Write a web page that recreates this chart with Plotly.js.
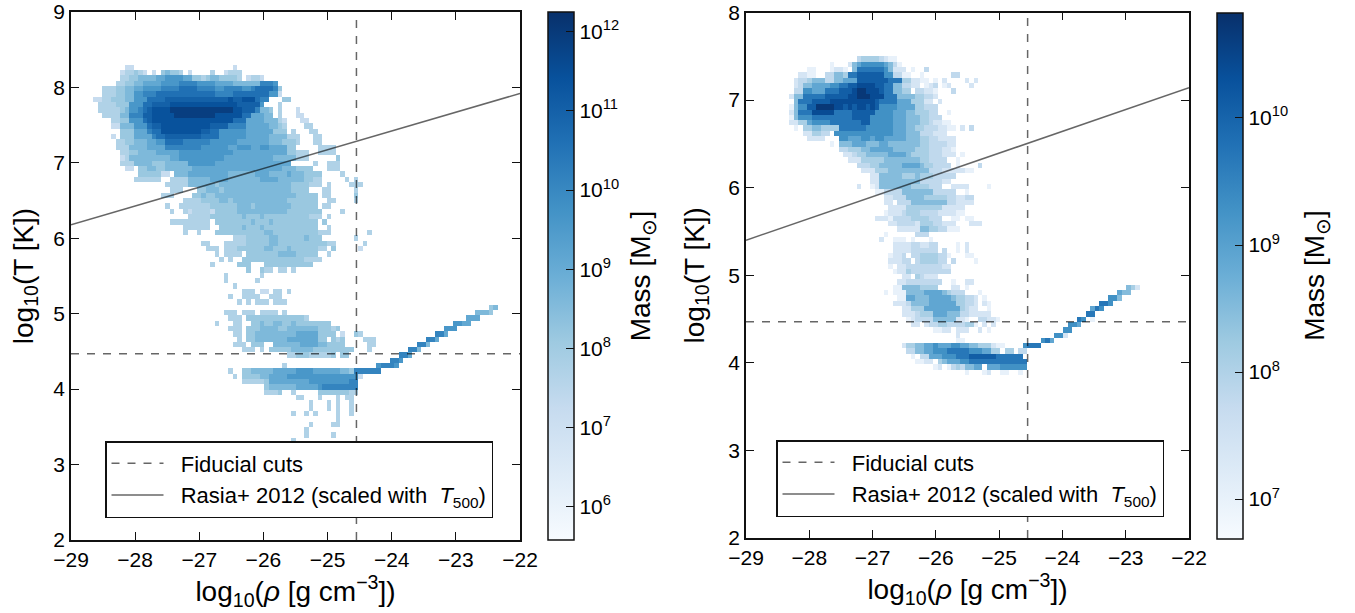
<!DOCTYPE html>
<html><head><meta charset="utf-8">
<script src="https://cdn.plot.ly/plotly-3.0.1.min.js"></script>
<style>html,body{margin:0;padding:0;background:#fff}</style></head>
<body><div id="chart" style="width:1355px;height:613px"></div>
<script>
// Mass levels: each character in a row is an estimated log10(mass).
const levelKeys = "123456789ab";
const leftLevelValues  = [7.2,7.7,8.15,8.6,9.1,9.6,10.1,10.6,11.0,11.4,11.9];
const rightLevelValues = [7.0,7.4,7.8,8.1,8.5,8.9,9.3,9.7,10.1,10.4,10.7];

// [row, "startColumn:levels ..."]
const leftRows = [
[89,"12:11 36:1"],
[88,"11:122321 18:1 20:34332 26:1 31:2 34:1222"],
[87,"11:2233 15:4444 19:55666655 27:3323 31:443 34:3332 39:1221"],
[86,"10:2233 14:4455 18:5566 22:667777 28:666655 34:5544 38:4444 42:7776"],
[85,"7:222 10:3344 14:5566 18:6677 22:778888 28:7777 32:6677 36:7766 40:7888 44:87 46:3"],
[84,"7:222 10:3344 14:6677 18:7888 22:888888 28:888877 34:7788 38:8888 42:88 44:66 46:1"],
[83,"5:11 7:2233 11:344 14:666 17:8888 21:99999999 29:999999 35:a99aaa 41:877 47:33"],
[82,"6:2222 10:333 13:666 16:88 18:9999 22:aaaaaaaaaaaaaaa 37:99999 42:6 46:2"],
[81,"6:22222 11:34 13:667 16:89 18:aaaa 22:bbbbbbbbbbbbbb 36:aa999 41:744 44:3 46:2 50:1"],
[80,"7:2222 11:44 13:777 16:99 18:aaaaa 23:bbbbbbbbb 32:aaaaaa 38:88 40:55544 46:2 50:11"],
[79,"9:22 11:33 13:666 16:8 17:9aaa 21:aaaaaaaaaaaaaaa 36:888 39:5555444 46:21 51:11"],
[78,"9:11 11:444 14:666 17:899 20:aaaaaaaaaaa 31:9999 35:7777 39:55555 44:4432 52:22"],
[77,"11:333 14:555 17:788 20:aaaaaaaaa 29:9988 33:666666 39:555555 45:333 49:2 53:22"],
[76,"9:1 11:333 14:5555 18:788 21:99999999 29:8888 33:666666 39:555554444 48:222 54:22"],
[75,"10:22 12:33444 17:5566 21:88887777 29:77666 34:6665555555 44:444333 50:2 54:22"],
[74,"10:222 13:44445555 21:77777 26:7776666 33:665566655665555 48:33 55:2222"],
[73,"11:2233 15:444455555 24:666666666666 36:555555555555 48:33222 55:2222"],
[72,"11:12 13:444444444 22:5566666666665555 38:5 39:55555544444 50:222 59:3"],
[71,"11:222 14:4444333 21:44444 26:66666655555555 40:555555555 54:2 57:222"],
[70,"12:11 15:3344334 22:44444 27:55555555555555555555 47:4443333 57:222"],
[69,"15:33333 20:11 23:44455555555544444455544445 49:4443333 60:2"],
[68,"14:222222 22:2222 26:44444555544444445555444444 52:3322 61:2 63:2"],
[67,"21:22222 26:444444344444444444444443333 53:222 57:2 62:2 63:22"],
[66,"22:222 28:3344434444444444444443333 56:22 63:2"],
[65,"20:222 27:3343344444444444444444433333 56:22 63:3"],
[64,"25:2222 29:33334434444444444443333333 57:22 63:2"],
[63,"21:2 24:2222222 31:333333444344444444333333 56:22"],
[62,"22:2 25:2122221 32:333334444444444433333333 60:2"],
[61,"26:22222 31:3333333433343333333333 53:222 57:2"],
[60,"22:222 25:222222 32:33333333433343333333333 56:3"],
[59,"25:222222 33:3333343334333333333333 57:2"],
[58,"25:2 28:2 32:33333333333443333333333222 66:2"],
[57,"36:222 39:33333443333334333 63:2"],
[56,"29:22 34:22222 39:3333344333333333 55:3322 65:2"],
[55,"30:22 32:2 34:22233333344333433333322 58:3 64:1"],
[54,"32:2 34:2222 39:3333333444433333 57:2"],
[53,"33:2 35:2 38:33333333333333 52:2222"],
[52,"31:2 37:333 43:33333333333"],
[51,"39:3 42:322 46:22 49:2"],
[50,"34:2 42:2"],
[49,"34:2 41:2"],
[48,"36:2"],
[47,"38:222 42:11 45:22 48:2"],
[46,"35:2 38:2222 44:222"],
[45,"37:2 39:2 41:222 45:222"],
[44,"93:34"],
[43,"34:222 38:222 42:2222 47:2 90:4443"],
[42,"35:222 39:3333333333333 52:2 88:555"],
[41,"32:2 36:22 40:33433443343333 54:3333 85:6655"],
[40,"35:222 39:33344443344444444 55:33323 83:666"],
[39,"36:22 39:33 41:44444444455555 55:3333 60:1 63:32 81:775"],
[38,"37:2 39:3344444445555555 55:33 58:323 65:222 79:775"],
[37,"36:222 40:333 45:444444555544 57:3333 66:22 77:774"],
[36,"38:222 42:2 44:33333444443333 58:33333 66:2 75:774"],
[35,"48:2233322222 58:3 60:33 73:775"],
[34,"71:776"],
[33,"47:2 68:67776"],
[32,"35:2 38:33 40:44444 45:55555 50:666655 56:5555 60:443 63:777777"],
[31,"36:2 38:3333 42:44555 47:5666 51:6666666 58:666666 64:1"],
[30,"38:222 41:223 44:555555 50:55566 55:666666677"],
[29,"43:34 45:44444 50:555556 56:77777777"],
[28,"43:222 46:3 49:2 55:333 58:333322"],
[27,"50:22 55:2 59:2 61:22"],
[26,"53:2 57:2 59:2 62:2"],
[25,"53:2 57:2 59:2 62:2"],
[24,"49:2 52:2 54:2 59:2 62:2"],
[23,"59:2"],
[22,"53:2 58:22"],
[21,"52:2"],
[20,"52:2 58:2"],
[19,"49:2"]
];

const rightRows = [
[91,"24:344443211"],
[90,"18:1 22:2 23:5 24:677777 30:65 32:3 33:1"],
[89,"13:11 18:122 21:1 23:5888888 30:755 32:222 36:1 39:3"],
[88,"11:2 12:212 14:1 17:33 19:554 22:88999999 30:77 32:33 34:11 38:1 45:33"],
[87,"10:233 13:4555 17:33 19:55666 24:9999999 31:888 34:44 36:2211 41:1 43:2 48:2 50:2"],
[86,"10:23 12:5566 16:6677 20:8899 24:aaaa 28:99 30:888 32:55 34:3322 39:123 43:12 49:2"],
[85,"10:33 12:77666 17:888 20:999 23:abbaa 28:a9 30:888 32:55 34:44 37:3322 41:1 45:3"],
[84,"9:2 10:55 12:88888 17:99999 22:aabbba 28:aa 30:888 33:5555 37:44332"],
[83,"10:5 11:888 14:9999a 19:aaaaaa 25:aaa9 29:8888 33:666 36:444 39:22 42:2"],
[82,"9:1 10:5 11:77 13:99 15:bbbba 20:a9a9a 25:a9a 28:9 29:7777 33:6666 37:44333"],
[81,"9:2 10:5 11:888 14:aaaaa 19:888899 25:999 28:7777 32:66655 37:44433 44:1"],
[80,"9:1 10:5 11:777 14:8888 18:88888 23:9999 27:77777 32:666555 38:44333"],
[79,"9:22 11:44 13:6 14:7777 18:88888 23:8899 27:77777 32:666555 38:44322 43:11"],
[78,"10:1 12:44 14:55 16:44 18:44 20:8888 24:88 26:777777 32:66655 37:4433322 44:11 47:2 49:3"],
[77,"12:22 14:4433 19:7777 23:777777777 32:666555 38:333222"],
[76,"13:2222 20:776 23:6677677 30:66 32:666555 38:443322 44:22"],
[75,"18:1 20:555 23:666555 29:66555 34:55 36:55 38:443333 44:22"],
[74,"20:33 22:44455 27:66666 32:55555 37:444333 43:221"],
[73,"21:223 24:44555 29:5566665 36:4444 40:333222 47:1"],
[72,"22:222 25:44444 30:55555555 38:443333 46:1"],
[71,"24:333 27:44555 32:5566665 39:443333 46:1 51:3"],
[70,"25:222 28:44455555 36:5555 40:33322222 48:11"],
[69,"27:22 29:555554445 38:44433333"],
[68,"27:22 29:555555555 38:3333322"],
[67,"24:2 27:12 29:5555555 36:444433 42:3 45:2222 53:1"],
[66,"28:11 30:3333 34:5555555 41:33333 48:1"],
[65,"30:22 32:333 35:555544444 44:3322 48:33"],
[64,"30:22 33:333 36:55555555 44:3322 48:22"],
[63,"31:2222 35:44444444 43:22222"],
[62,"30:1 31:222 34:34443333 42:222211"],
[61,"28:222 31:1 32:333344443 41:33 45:1 46:1 48:11"],
[60,"31:2233332 38:44433 43:222 49:222"],
[59,"33:22222 38:5544 42:33 44:111"],
[58,"30:1 37:333"],
[57,"29:2 32:11 34:1 36:1 40:1"],
[56,"32:2222 36:33 38:2233 46:1 48:2"],
[55,"32:2222 36:3333 40:33 43:3 46:1 48:2"],
[54,"31:122 34:3 36:33444433 44:1 48:11"],
[53,"31:222 34:33 37:3444433 45:3 50:1"],
[52,"31:1 33:22 35:333 38:3333 42:322"],
[51,"32:1 33:22 35:4 36:33 38:3333 42:333"],
[50,"34:22 37:43 39:222"],
[49,"33:22 35:33 37:333 39:3333 45:1 48:22"],
[48,"32:11 34:55 36:5544 40:44 45:22 48:1 84:542"],
[47,"30:1 32:111 35:5555 39:66665 44:4333 51:1 82:655"],
[46,"33:11 35:66555 40:666665 46:4433 50:2 52:1 80:775"],
[45,"32:222 35:3 36:5555 40:666666 46:44332 52:21 78:887"],
[44,"34:22 36:444 39:66666666 47:4322 53:1 76:687"],
[43,"34:222 37:3444 41:666555 47:33 49:22222 75:88"],
[42,"35:12 37:3333 41:55555 46:22 48:1 51:3322 55:1 73:87 76:1"],
[41,"36:22 39:2 40:3344333344 50:1 52:2 54:2 71:776"],
[40,"41:1 42:122 46:222 51:2 53:1 70:77"],
[39,"46:2 68:772"],
[38,"46:11 65:786"],
[37,"34:2 35:44 37:5566 41:766677 47:6655 51:444 54:211 61:7888"],
[36,"35:33 37:55 39:6677 43:78888 48:8777 52:66 54:44 57:44 60:33"],
[35,"36:1 38:33 40:666 43:777 46:888 49:9999999 55:888888"],
[34,"37:11 39:22 42:45 44:666 47:77 49:88888888 56:888888"],
[33,"41:12 44:1 45:34 47:3 48:5566 53:666 56:777777"],
[32,"48:1 52:12 56:11 60:1"]
];

// Reference lines
const cutRho = [-29,-22,null,-24.55,-24.55];
const leftCutT = [4.47,4.47,null,2,9];
const rightCutT = [4.47,4.47,null,2,8];
const rasiaRho = [-29,-22];
const leftRasiaT = [6.18,7.92];
const rightRasiaT = [5.40,7.14];

// Ticks and limits
const xTicks = [-29,-28,-27,-26,-25,-24,-23,-22];
const leftCbTicks = [6,7,8,9,10,11,12];
const rightCbTicks = [7,8,9,10];
const leftMassRange = [5.58,12.25];
const rightMassRange = [6.69,10.83];

const blues = [[0,'rgb(247,251,255)'],[0.125,'rgb(222,235,247)'],[0.25,'rgb(198,219,239)'],[0.375,'rgb(158,202,225)'],[0.5,'rgb(107,174,214)'],[0.625,'rgb(66,146,198)'],[0.75,'rgb(33,113,181)'],[0.875,'rgb(8,81,156)'],[1,'rgb(8,48,107)']];

function grid(rows, values){
  const z = Array.from({length:100},()=>new Array(100).fill(null));
  rows.forEach(([r,spec])=>{
    spec.trim().split(/\s+/).forEach(p=>{
      const [c,s]=p.split(':');
      [...s].forEach((ch,i)=>{ if(+c+i<100) z[r][+c+i]=values[levelKeys.indexOf(ch)]; });
    });
  });
  return z;
}
const W=1355,H=613;
const FONT='"Liberation Sans", Arial, sans-serif';
const fx=p=>p/W, fy=p=>1-p/H;
function cb(px,top,bot,ticks,pad){
  return {x:fx(px),xanchor:'left',xref:'paper',y:fy(top),yanchor:'top',yref:'paper',lenmode:'pixels',len:bot-top,
    thickness:26,thicknessmode:'pixels',xpad:0,ypad:0,outlinewidth:1.5,outlinecolor:'#111',
    ticks:'inside',ticklen:8,tickwidth:1,tickcolor:'#111',tickmode:'array',tickvals:ticks,
    ticktext:ticks.map(t=>'10<sup>'+t+'</sup>'+pad),tickfont:{size:21,color:'#000',family:FONT},
    title:{text:'Mass [M<sub>⊙</sub>]',side:'right',font:{size:28,color:'#000',family:FONT}}};
}
function heat(rows,vals,range,x0,dx,y0,dy,xa,ya,bar){
  return {type:'heatmap',z:grid(rows,vals),x0:x0,dx:dx,y0:y0,dy:dy,xaxis:xa,yaxis:ya,zmin:range[0],zmax:range[1],
    colorscale:blues,zsmooth:false,hoverinfo:'skip',colorbar:bar,showlegend:false};
}
const grey='rgba(0,0,0,0.6)';
function line(x,y,name,dash,xa,ya,leg,group){
  return {type:'scatter',mode:'lines',x:x,y:y,name:name,xaxis:xa,yaxis:ya,legend:leg,legendgroup:group,
    line:{color:grey,width:1.5,dash:dash},hoverinfo:'skip',connectgaps:false};
}
const dash='8px,8px';
const cutsName='\u00a0\u00a0Fiducial cuts';
const rasiaName='\u00a0\u00a0Rasia+ 2012 (scaled with\u00a0 <i>T</i><sub>500</sub>)';
const traces=[
  heat(leftRows,leftLevelValues,leftMassRange,-28.965,0.07,1.973,7/99,'x','y',cb(547.5,12,540,leftCbTicks,'\u00a0\u00a0')),
  heat(rightRows,rightLevelValues,rightMassRange,-28.917,0.07094,1.953,6/99,'x2','y2',cb(1216.5,12.5,538,rightCbTicks,'\u00a0\u00a0\u00a0')),
  line(cutRho,leftCutT,cutsName,dash,'x','y','legend','a'),
  line(rasiaRho,leftRasiaT,rasiaName,'solid','x','y','legend','b'),
  line(cutRho,rightCutT,cutsName,dash,'x2','y2','legend2','a'),
  line(rasiaRho,rightRasiaT,rasiaName,'solid','x2','y2','legend2','b')
];
function xaxis(l,r,anchor){
  return {domain:[fx(l),fx(r)],anchor:anchor,range:[-29,-22],tickmode:'array',tickvals:xTicks,ticks:'inside',ticklen:8,tickwidth:1,
    tickcolor:'#111',mirror:'ticks',showline:true,linecolor:'#111',linewidth:1.5,showgrid:false,zeroline:false,
    tickfont:{size:21,color:'#000',family:FONT},
    title:{text:'log<sub>10</sub>(<i>ρ</i> [g cm<sup>−3</sup>])',font:{size:28,color:'#000',family:FONT},standoff:6}};
}
function yaxis(t,b,anchor,lo,hi,off){
  return {domain:[fy(b),fy(t)],anchor:anchor,range:[lo,hi],dtick:1,tick0:2,ticks:'inside',ticklen:8,tickwidth:1,
    tickcolor:'#111',mirror:'ticks',showline:true,linecolor:'#111',linewidth:1.5,showgrid:false,zeroline:false,
    tickfont:{size:21,color:'#000',family:FONT},
    title:{text:'log<sub>10</sub>(T [K])',font:{size:28,color:'#000',family:FONT},standoff:off}};
}
function legend(x,y){
  return {x:fx(x),y:fy(y),xanchor:'left',yanchor:'top',xref:'paper',yref:'paper',bgcolor:'#fff',bordercolor:'#111',borderwidth:1.5,
    font:{size:22,color:'#000',family:FONT},itemwidth:52,traceorder:'grouped',tracegroupgap:0,itemclick:false,itemdoubleclick:false};
}
const layout={width:W,height:H,margin:{l:0,r:0,t:0,b:0},paper_bgcolor:'#fff',plot_bgcolor:'#fff',font:{family:FONT,color:'#000'},
  xaxis:xaxis(71,520,'y'),yaxis:yaxis(12,540,'x',2,9,12),
  xaxis2:xaxis(746,1189,'y2'),yaxis2:yaxis(12.5,538,'x2',2,8,16),
  legend:legend(105,441),legend2:legend(776,440),showlegend:true};
Plotly.newPlot('chart',traces,layout,{displayModeBar:false,responsive:false});
</script></body></html>
